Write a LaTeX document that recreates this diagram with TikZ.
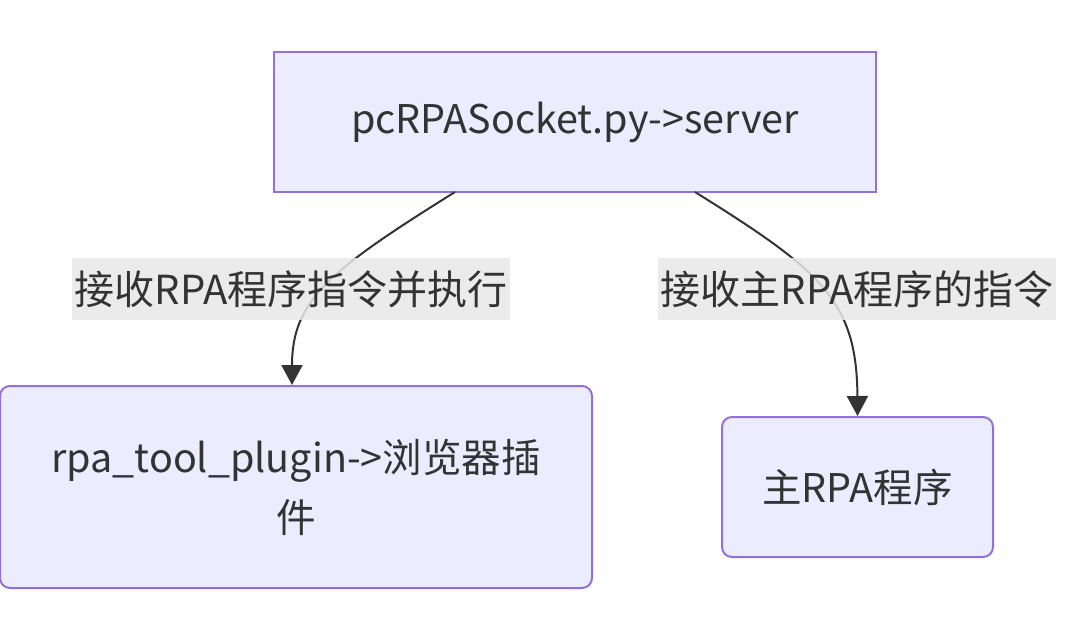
\documentclass[tikz,border=0pt]{standalone}
\usepackage{fontspec}
\setmainfont{Noto Sans CJK SC}
\usetikzlibrary{arrows.meta}
\definecolor{boxfill}{HTML}{ECECFF}
\definecolor{boxline}{HTML}{9370DB}
\definecolor{ink}{HTML}{333333}
\definecolor{labfill}{HTML}{E8E8E8}
\tikzset{
  box/.style={draw=boxline,fill=boxfill,line width=2pt,text=ink,align=center,font=\fontsize{39.5}{60}\selectfont},
  edgelab/.style={fill=labfill,fill opacity=0.85,text opacity=1,text=ink,inner xsep=3pt,inner ysep=0pt,minimum height=61pt,font=\fontsize{40}{44}\selectfont},
  link/.style={draw=ink,line width=2pt,-{Triangle[length=20pt,width=21pt]}}
}
\begin{document}
\begin{tikzpicture}[x=1pt,y=-1pt]
\useasboundingbox (0,0) rectangle (1065,620);
\node[box,minimum width=602pt,minimum height=140pt] (srv) at (575,122) {pcRPASocket.py->server};
\node[box,rounded corners=10pt,minimum width=592pt,minimum height=202pt] (plug) at (296,487) {rpa\_tool\_plugin->浏览器插\\件};
\node[box,rounded corners=10pt,minimum width=271pt,minimum height=140pt] (mainrpa) at (857.5,487) {主RPA程序};
\coordinate (s1) at (455,192);
\coordinate (s2) at (695,192);
\draw[link] (s1) .. controls (330,270) and (292,300) .. ([xshift=-4pt]plug.north);
\draw[link] (s2) .. controls (820,270) and (857,300) .. (mainrpa.north);
\node[edgelab] (lab1) at (291,289) {接收RPA程序指令并执行};
\node[edgelab] (lab2) at (857,289) {接收主RPA程序的指令};
\end{tikzpicture}
\end{document}
